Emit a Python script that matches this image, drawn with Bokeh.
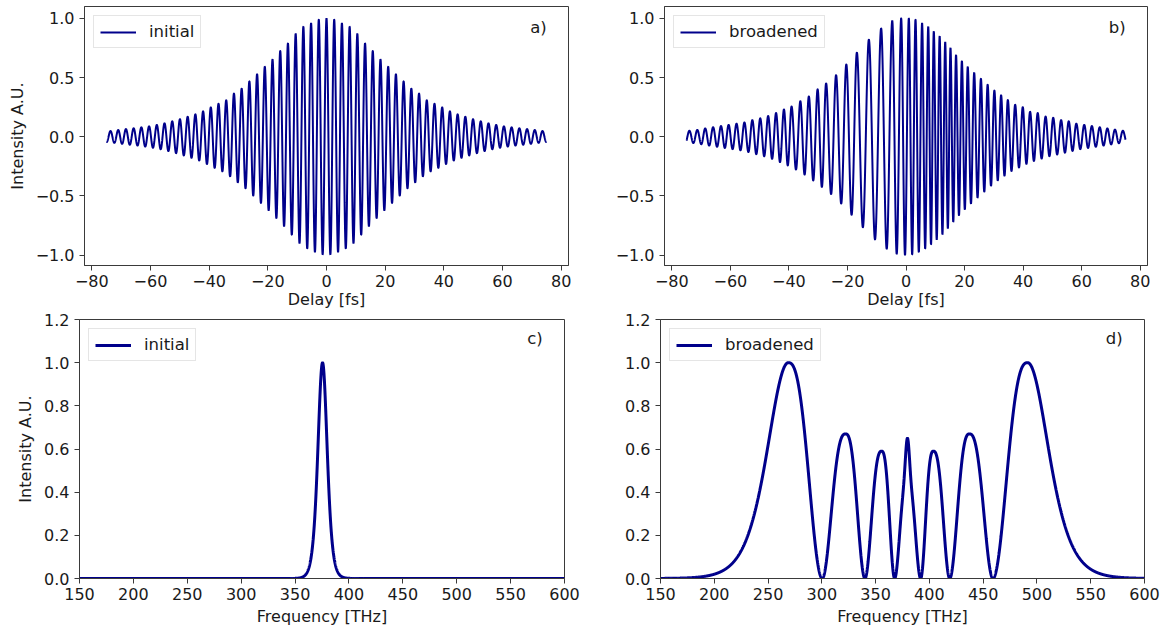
import numpy as np
from bokeh.plotting import figure
from bokeh.layouts import column, row
from bokeh.models import Range1d, FixedTicker, Label, CustomJSTickFormatter
from bokeh.embed import file_html
from bokeh.resources import INLINE

FONT = "DejaVu Sans"
LINE_COLOR = "#00008b"
TEXT_COLOR = "#1a1a1a"
SPINE_COLOR = "#3a3a3a"
FS = "16px"
FS_LEGEND = "16.5px"

# ---------------- data ----------------
# panel a: envelope of the initial interferogram (symmetric in delay) and carrier period
a_env_delay = [0.0, 2.6, 5.2, 7.9, 10.5, 13.1, 15.6, 18.1, 20.7, 23.6, 26.2, 28.7, 31.3,
               34.0, 36.7, 39.3, 42.0, 44.6, 47.2, 49.7, 52.6, 55.2, 57.7, 60.3, 62.8,
               65.4, 68.2, 70.8, 73.6, 75.0]
a_env_value = [1.0, 0.99, 0.96, 0.93, 0.87, 0.79, 0.73, 0.66, 0.60, 0.53, 0.47, 0.41, 0.37,
               0.31, 0.28, 0.25, 0.215, 0.19, 0.17, 0.15, 0.13, 0.113, 0.10, 0.088, 0.08,
               0.072, 0.065, 0.057, 0.048, 0.045]
a_period_fs = 2.63

# panel b: delays of the fringe maxima and their heights (broadened, chirped)
b_peak_delay = [-74.0, -71.3, -68.6, -65.9, -63.2, -60.6, -57.9, -55.2, -52.5, -49.8, -47.1,
                -44.4, -41.7, -39.1, -36.1, -33.2, -30.2, -27.3, -23.9, -20.4, -16.8, -12.7,
                -8.5, -4.7, -1.65, 0.97, 3.25, 5.5, 7.6, 9.5, 11.5, 13.4, 15.2, 17.1, 19.1,
                21.1, 23.3, 25.6, 27.9, 30.2, 32.5, 34.8, 37.3, 39.9, 42.4, 45.0, 47.7, 50.3,
                53.0, 55.6, 58.2, 60.9, 63.5, 66.2, 68.8, 71.4, 74.1]
b_peak_value = [0.05, 0.057, 0.07, 0.08, 0.09, 0.10, 0.11, 0.12, 0.14, 0.155, 0.175,
                0.20, 0.23, 0.255, 0.30, 0.34, 0.40, 0.45, 0.52, 0.61, 0.71, 0.82,
                0.915, 0.98, 1.0, 1.0, 0.99, 0.96, 0.93, 0.89, 0.85, 0.80, 0.75, 0.69, 0.64,
                0.59, 0.54, 0.49, 0.44, 0.39, 0.35, 0.31, 0.27, 0.25, 0.21, 0.20, 0.17, 0.16,
                0.14, 0.13, 0.11, 0.10, 0.09, 0.08, 0.07, 0.06, 0.05]

# panel c: initial spectrum (single line)
c_peak_freq = 375.5
c_peak_height = 1.0
c_peak_width = 5.8

# panel d: broadened spectrum lobes
d_peak_freq = [268.8, 322.1, 355.6, 379.6, 403.7, 437.2, 491.4]
d_peak_height = [1.0, 0.67, 0.59, 0.45, 0.59, 0.67, 1.0]
d_zero_freq = [300.4, 340.1, 367.7, 391.9, 418.9, 459.1]
d_tail_width = 26.0
d_spike_freq = 379.6
d_spike_height = 0.20
d_spike_width = 1.8
d_lobe_shape = 1.3

delay_ticks = [-80, -60, -40, -20, 0, 20, 40, 60, 80]
amp_ticks = [-1.0, -0.5, 0.0, 0.5, 1.0]
freq_ticks = [150, 200, 250, 300, 350, 400, 450, 500, 550, 600]
int_ticks = [0.0, 0.2, 0.4, 0.6, 0.8, 1.0, 1.2]

# ---------------- curves built from the read values ----------------
t = np.linspace(-75, 75, 7501)
a_y = np.interp(np.abs(t), a_env_delay, a_env_value) * np.cos(2 * np.pi * t / a_period_fs)

bt = np.array(b_peak_delay)
k = np.arange(len(bt), dtype=float)
ph = np.interp(t, bt, k)
lo = t < bt[0]
ph[lo] = (t[lo] - bt[0]) / (bt[1] - bt[0])
hi = t > bt[-1]
ph[hi] = k[-1] + (t[hi] - bt[-1]) / (bt[-1] - bt[-2])
b_y = np.interp(t, bt, b_peak_value) * np.cos(2 * np.pi * ph)

f = np.linspace(150, 600, 4501)


def sech2(x):
    return 1.0 / np.cosh(x) ** 2


c_y = c_peak_height * sech2((f - c_peak_freq) / c_peak_width)

p = d_peak_freq
h = d_peak_height
m = d_zero_freq
d_y = np.zeros_like(f)
sel = f <= p[0]
d_y[sel] = h[0] * sech2((f[sel] - p[0]) / d_tail_width)
sel = f >= p[-1]
d_y[sel] = h[-1] * sech2((f[sel] - p[-1]) / d_tail_width)
for i in range(len(m)):
    sel = (f >= p[i]) & (f <= m[i])
    u = (f[sel] - p[i]) / (m[i] - p[i])
    d_y[sel] = h[i] * np.cos(np.pi / 2 * u ** d_lobe_shape) ** 2
    sel = (f > m[i]) & (f <= p[i + 1])
    u = (p[i + 1] - f[sel]) / (p[i + 1] - m[i])
    d_y[sel] = h[i + 1] * np.cos(np.pi / 2 * u ** d_lobe_shape) ** 2
d_y = d_y + d_spike_height * np.exp(-((f - d_spike_freq) ** 2) / (2 * d_spike_width ** 2))


# ---------------- figures ----------------
def make(width, height, bl, br, bt_, bb, xr, yr, xticks, yticks, xdec, ydec,
         xlabel, ylabel, xlabel_standoff):
    fig = figure(width=width, height=height, output_backend="svg", toolbar_location=None,
                 x_range=Range1d(*xr), y_range=Range1d(*yr),
                 min_border_left=bl, min_border_right=br, min_border_top=bt_,
                 min_border_bottom=bb)
    fig.background_fill_color = "white"
    fig.border_fill_color = "white"
    fig.outline_line_color = SPINE_COLOR
    fig.outline_line_width = 1
    fig.outline_line_alpha = 1
    fig.xgrid.visible = False
    fig.ygrid.visible = False
    for ax, ticks, dec in ((fig.xaxis[0], xticks, xdec), (fig.yaxis[0], yticks, ydec)):
        ax.ticker = FixedTicker(ticks=ticks)
        ax.formatter = CustomJSTickFormatter(
            code="var s = Math.abs(tick).toFixed(%d); return (tick < -1e-9 ? '\\u2212' : '') + s;" % dec)
        ax.minor_tick_line_color = None
        ax.major_tick_in = 0
        ax.major_tick_out = 5
        ax.major_tick_line_color = SPINE_COLOR
        ax.axis_line_color = SPINE_COLOR
        ax.major_label_text_font = FONT
        ax.major_label_text_font_size = FS
        ax.major_label_text_color = TEXT_COLOR
        ax.major_label_standoff = 5
        ax.axis_label_text_font = FONT
        ax.axis_label_text_font_size = FS
        ax.axis_label_text_font_style = "normal"
        ax.axis_label_text_color = TEXT_COLOR
    fig.xaxis[0].major_label_standoff = 4
    fig.xaxis[0].axis_label_standoff = xlabel_standoff
    fig.yaxis[0].axis_label_standoff = 6
    fig.xaxis[0].axis_label = xlabel
    if ylabel:
        fig.yaxis[0].axis_label = ylabel
    return fig


def style_legend(fig):
    lg = fig.legend[0]
    lg.location = "top_left"
    lg.margin = 9
    lg.padding = 6
    lg.spacing = 0
    lg.glyph_width = 36
    lg.glyph_height = 18
    lg.label_height = 18
    lg.label_standoff = 13
    lg.label_text_font = FONT
    lg.label_text_font_size = FS_LEGEND
    lg.label_text_color = TEXT_COLOR
    lg.border_line_color = "#cccccc"
    lg.border_line_width = 1
    lg.background_fill_color = "white"
    lg.background_fill_alpha = 0.8


def panel_label(fig, text, fy):
    xr, yr = fig.x_range, fig.y_range
    fig.add_layout(Label(x=xr.start + 0.955 * (xr.end - xr.start),
                         y=yr.start + fy * (yr.end - yr.start),
                         text=text, text_align="right", text_baseline="middle",
                         text_font=FONT, text_font_size=FS_LEGEND, text_color=TEXT_COLOR))


delay_range = (-82.5, 82.5)
amp_range = (-1.088, 1.1)
freq_range = (150, 600)
int_range = (0, 1.2)

pa = make(604, 312, 84, 36, 6, 47, delay_range, amp_range, delay_ticks, amp_ticks, 0, 1,
          "Delay [fs]", "Intensity A.U.", 0)
pa.line(t, a_y, line_color=LINE_COLOR, line_width=2, legend_label="initial")
style_legend(pa)
panel_label(pa, "a)", 0.919)

pb = make(562, 312, 60, 19, 6, 47, delay_range, amp_range, delay_ticks, amp_ticks, 0, 1,
          "Delay [fs]", None, 0)
pb.line(t, b_y, line_color=LINE_COLOR, line_width=2, legend_label="broadened")
style_legend(pb)
panel_label(pb, "b)", 0.919)

pc = make(604, 318, 79, 40, 7, 52, freq_range, int_range, freq_ticks, int_ticks, 0, 1,
          "Frequency [THz]", "Intensity A.U.", 4)
pc.line(f, c_y, line_color=LINE_COLOR, line_width=3, legend_label="initial")
style_legend(pc)
panel_label(pc, "c)", 0.927)

pd = make(562, 318, 56, 22, 7, 52, freq_range, int_range, freq_ticks, int_ticks, 0, 1,
          "Frequency [THz]", None, 4)
pd.line(f, d_y, line_color=LINE_COLOR, line_width=3, legend_label="broadened")
style_legend(pd)
panel_label(pd, "d)", 0.927)

layout = column(row(pa, pb), row(pc, pd))
open("out.html", "w").write(file_html(layout, INLINE))
